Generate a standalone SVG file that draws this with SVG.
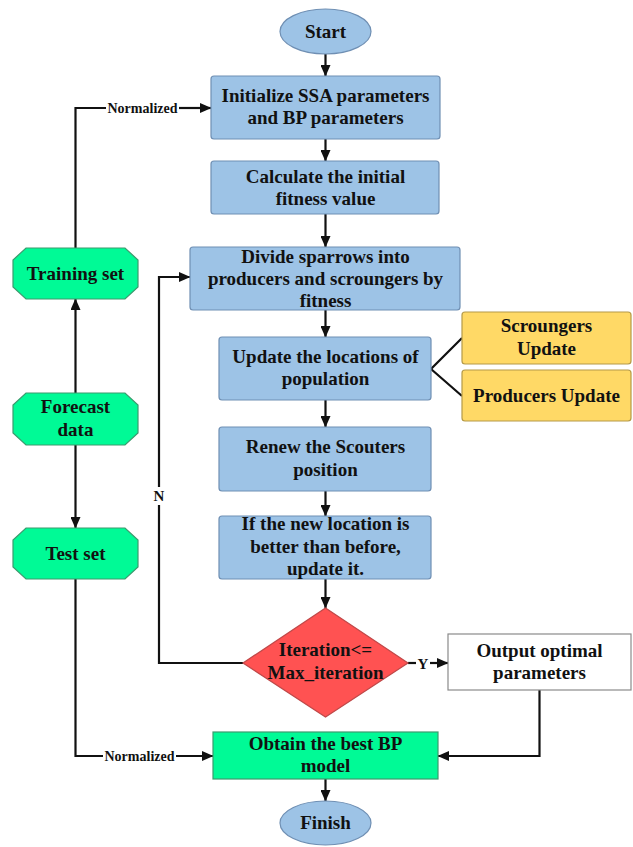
<svg xmlns="http://www.w3.org/2000/svg" width="633" height="847" viewBox="0 0 633 847">
  <style>
    text { font-family: "Liberation Serif", "Times New Roman", serif; font-weight: bold; fill: #111; text-anchor: middle; }
    .t { font-size: 19px; }
    .lbl { font-size: 14px; }
    .yn { font-size: 15px; }
    .proc { fill: #9DC3E6; stroke: #6F8FB3; stroke-width: 1.2; }
    .term { fill: #9DC3E6; stroke: #6F8FB3; stroke-width: 1.2; }
    .data { fill: #00FA96; stroke: #3C9A6E; stroke-width: 1.2; }
    .sub { fill: #FFD966; stroke: #B59A48; stroke-width: 1.2; }
    .dec { fill: #FF5252; stroke: #C04848; stroke-width: 1.2; }
    .out { fill: #FFFFFF; stroke: #8A8A8A; stroke-width: 1.2; }
    .wire { fill: none; stroke: #111; stroke-width: 2.2; }
    .arrow { fill: none; stroke: #111; stroke-width: 2.2; marker-end: url(#head); }
  </style>
  <defs>
    <marker id="head" markerUnits="userSpaceOnUse" markerWidth="12" markerHeight="10" refX="11" refY="5" orient="auto">
      <path d="M0,0 L11.5,5 L0,10 Z" fill="#111"/>
    </marker>
  </defs>

  <rect width="633" height="847" fill="#FFFFFF"/>

  <!-- connectors -->
  <g id="connectors">
    <line class="arrow" x1="325.5" y1="54" x2="325.5" y2="76"/>
    <line class="arrow" x1="325.5" y1="139" x2="325.5" y2="161"/>
    <line class="arrow" x1="325.5" y1="214" x2="325.5" y2="247"/>
    <line class="arrow" x1="325.5" y1="310" x2="325.5" y2="337"/>
    <line class="arrow" x1="325.5" y1="400" x2="325.5" y2="427"/>
    <line class="arrow" x1="325.5" y1="491" x2="325.5" y2="516"/>
    <line class="arrow" x1="325.5" y1="579" x2="325.5" y2="608"/>
    <line class="arrow" x1="325.5" y1="779" x2="325.5" y2="801"/>
    <!-- branch to the two update strategies -->
    <polyline class="wire" points="462,338 431,369 462,396" stroke-width="2"/>
    <!-- N loop back to the grouping step -->
    <polyline class="wire" points="243,663 159,663 159,505"/>
    <text class="yn" x="159" y="501">N</text>
    <polyline class="arrow" points="159,487 159,277 190,277"/>
    <!-- Y branch -->
    <line class="wire" x1="408" y1="663" x2="416" y2="663"/>
    <text class="yn" x="423" y="668.5">Y</text>
    <line class="arrow" x1="430" y1="663" x2="448" y2="663"/>
    <!-- output to final model -->
    <polyline class="arrow" points="539.5,690 539.5,756 438,756"/>
    <!-- left data column -->
    <line class="arrow" x1="75.5" y1="393" x2="75.5" y2="299"/>
    <line class="arrow" x1="75.5" y1="445" x2="75.5" y2="528"/>
    <polyline class="wire" points="75.5,248 75.5,108 106,108"/>
    <text class="lbl" x="142.5" y="113">Normalized</text>
    <line class="arrow" x1="179" y1="108" x2="211" y2="108"/>
    <polyline class="wire" points="75.5,579 75.5,756 103,756"/>
    <text class="lbl" x="139.5" y="761">Normalized</text>
    <line class="arrow" x1="176" y1="756" x2="213" y2="756"/>
  </g>

  <g id="start">
    <ellipse class="term" cx="325.5" cy="31.5" rx="45.5" ry="22.5"/>
    <text class="t" x="325.5" y="38">Start</text>
  </g>

  <g id="init">
    <rect class="proc" x="211" y="76" width="229" height="63" rx="3"/>
    <text class="t" x="325.5" y="102">Initialize SSA parameters</text>
    <text class="t" x="325.5" y="124">and BP parameters</text>
  </g>

  <g id="fitness">
    <rect class="proc" x="211" y="161" width="228" height="53" rx="3"/>
    <text class="t" x="325.5" y="183">Calculate the initial</text>
    <text class="t" x="325.5" y="205">fitness value</text>
  </g>

  <g id="divide">
    <rect class="proc" x="190" y="247" width="270" height="63" rx="3"/>
    <text class="t" x="325.5" y="263">Divide sparrows into</text>
    <text class="t" x="325.5" y="285">producers and scroungers by</text>
    <text class="t" x="325.5" y="307">fitness</text>
  </g>

  <g id="update">
    <rect class="proc" x="219" y="337" width="212" height="63" rx="3"/>
    <text class="t" x="325.5" y="363">Update the locations of</text>
    <text class="t" x="325.5" y="385">population</text>
  </g>

  <g id="scroungers">
    <rect class="sub" x="462" y="312" width="169" height="52" rx="3"/>
    <text class="t" x="546.5" y="332">Scroungers</text>
    <text class="t" x="546.5" y="355">Update</text>
  </g>

  <g id="producers">
    <rect class="sub" x="462" y="370" width="169" height="51" rx="3"/>
    <text class="t" x="546.5" y="402">Producers Update</text>
  </g>

  <g id="renew">
    <rect class="proc" x="219" y="427" width="212" height="64" rx="3"/>
    <text class="t" x="325.5" y="453">Renew the Scouters</text>
    <text class="t" x="325.5" y="476">position</text>
  </g>

  <g id="compare">
    <rect class="proc" x="219" y="516" width="212" height="63" rx="3"/>
    <text class="t" x="325.5" y="530">If the new location is</text>
    <text class="t" x="325.5" y="553">better than before,</text>
    <text class="t" x="325.5" y="575">update it.</text>
  </g>

  <g id="decision">
    <polygon class="dec" points="325.5,608 408,663 325.5,717 243,663"/>
    <text class="t" x="325.5" y="656">Iteration&lt;=</text>
    <text class="t" x="325.5" y="679">Max_iteration</text>
  </g>

  <g id="output">
    <rect class="out" x="448" y="634" width="183" height="56"/>
    <text class="t" x="539.5" y="657">Output optimal</text>
    <text class="t" x="539.5" y="679">parameters</text>
  </g>

  <g id="best-model">
    <rect class="data" x="213" y="732" width="225" height="47"/>
    <text class="t" x="325.5" y="750">Obtain the best BP</text>
    <text class="t" x="325.5" y="772">model</text>
  </g>

  <g id="finish">
    <ellipse class="term" cx="325.5" cy="823" rx="45.5" ry="22"/>
    <text class="t" x="325.5" y="829">Finish</text>
  </g>

  <g id="training-set">
    <polygon class="data" points="26,248 125,248 138,260 138,287 125,299 26,299 13,287 13,260"/>
    <text class="t" x="75.5" y="280">Training set</text>
  </g>

  <g id="forecast-data">
    <polygon class="data" points="26,393 125,393 138,405 138,433 125,445 26,445 13,433 13,405"/>
    <text class="t" x="75.5" y="413">Forecast</text>
    <text class="t" x="75.5" y="436">data</text>
  </g>

  <g id="test-set">
    <polygon class="data" points="26,528 125,528 138,540 138,567 125,579 26,579 13,567 13,540"/>
    <text class="t" x="75.5" y="560">Test set</text>
  </g>
</svg>
